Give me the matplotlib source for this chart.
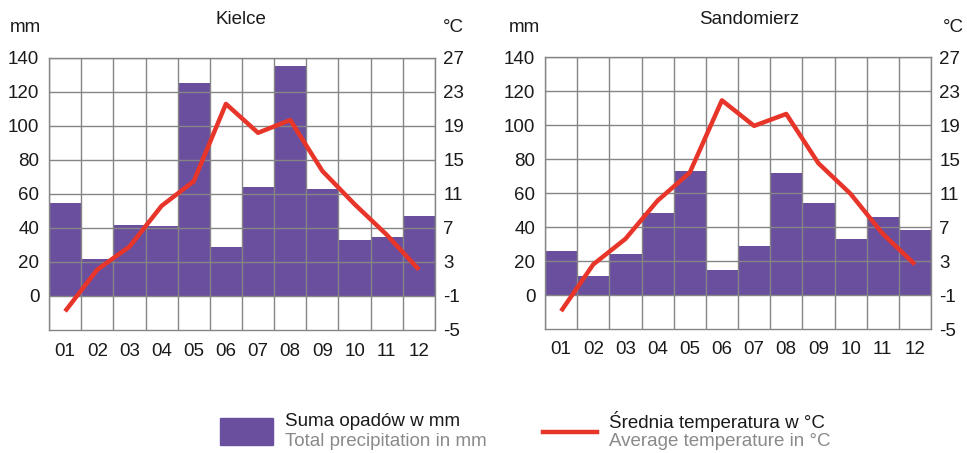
import matplotlib
matplotlib.use("Agg")
import matplotlib.pyplot as plt
from matplotlib.patches import Rectangle
from matplotlib.lines import Line2D

months = ["01", "02", "03", "04", "05", "06", "07", "08", "09", "10", "11", "12"]

kielce_precip = [55, 22, 42, 41, 125, 29, 64, 135, 63, 33, 35, 47]
kielce_temp = [-2.8, 2.1, 4.8, 9.6, 12.5, 21.6, 18.2, 19.7, 13.7, 9.8, 6.2, 2.1]

sandomierz_precip = [26, 11, 24, 48, 73, 15, 29, 72, 54, 33, 46, 38]
sandomierz_temp = [-2.9, 2.6, 5.6, 10.1, 13.4, 21.9, 18.9, 20.3, 14.5, 10.9, 6.2, 2.6]

mm_ticks = [0, 20, 40, 60, 80, 100, 120, 140]
temp_ticks = [-5, -1, 3, 7, 11, 15, 19, 23, 27]

PURPLE = "#6A4F9E"
RED = "#E8352A"
GRID = "#858585"
TEXT = "#1a1a1a"
FS = 13.5

plt.rcParams["font.family"] = ["Liberation Sans", "DejaVu Sans"]
plt.rcParams["axes.unicode_minus"] = False

W, H = 967, 453
fig = plt.figure(figsize=(W / 100, H / 100), dpi=100)


def make_axes(x0, y0, x1, y1):
    return fig.add_axes([x0 / W, 1 - y1 / H, (x1 - x0) / W, (y1 - y0) / H])


def draw(ax, title, precip, temp, title_x, mm_x, c_x):
    n = len(months)
    xs = list(range(n))
    ax.bar(xs, precip, width=1.0, color=PURPLE, zorder=1, linewidth=0)
    ax.set_xlim(-0.5, n - 0.5)
    ax.set_ylim(-20, 140)
    ax.set_yticks(mm_ticks)
    ax.set_xticks(xs)
    ax.set_xticklabels(months)
    ax.set_xticks([i + 0.5 for i in range(-1, n)], minor=True)
    ax.set_axisbelow(False)
    ax.xaxis.grid(False, which="major")
    ax.xaxis.grid(True, which="minor", color=GRID, linewidth=1.0)
    ax.yaxis.grid(True, which="major", color=GRID, linewidth=1.0)
    ax.tick_params(which="both", length=0)
    ax.tick_params(axis="y", labelsize=FS, pad=7, colors=TEXT)
    ax.tick_params(axis="x", labelsize=FS, pad=9, colors=TEXT)
    for s in ax.spines.values():
        s.set_color(GRID)
        s.set_linewidth(1.0)

    ax2 = ax.twinx()
    ax2.set_ylim(-5, 27)
    ax2.set_yticks(temp_ticks)
    ax2.plot(xs, temp, color=RED, linewidth=3.2, zorder=5, solid_capstyle="butt")
    ax2.tick_params(length=0, labelsize=FS, pad=6, colors=TEXT)
    for s in ax2.spines.values():
        s.set_visible(False)

    fig.text(title_x / W, 1 - 20 / H, title, ha="center", va="center", fontsize=FS, color=TEXT)
    fig.text(mm_x / W, 1 - 28 / H, "mm", ha="center", va="center", fontsize=FS, color=TEXT)
    fig.text(c_x / W, 1 - 28 / H, "°C", ha="center", va="center", fontsize=FS, color=TEXT)


ax_l = make_axes(49, 58, 435, 330)
draw(ax_l, "Kielce", kielce_precip, kielce_temp, 241, 25, 453)

ax_r = make_axes(545, 57, 931, 329)
draw(ax_r, "Sandomierz", sandomierz_precip, sandomierz_temp, 749, 524, 953)

# legend
fig.patches.append(Rectangle((220 / W, 1 - 445 / H), 53 / W, 27 / H,
                             transform=fig.transFigure, color=PURPLE, figure=fig))
fig.lines.append(Line2D([543 / W, 597 / W], [1 - 432 / H, 1 - 432 / H],
                        transform=fig.transFigure, color=RED, linewidth=3.2, figure=fig))
fig.text(285 / W, 1 - 421 / H, "Suma opadów w mm", ha="left", va="center", fontsize=FS, color=TEXT)
fig.text(285 / W, 1 - 441 / H, "Total precipitation in mm", ha="left", va="center", fontsize=FS, color="#8a8a8a")
fig.text(609 / W, 1 - 421 / H, "Średnia temperatura w °C", ha="left", va="center", fontsize=FS, color=TEXT)
fig.text(609 / W, 1 - 441 / H, "Average temperature in °C", ha="left", va="center", fontsize=FS, color="#8a8a8a")

fig.savefig("out.png", dpi=100)
